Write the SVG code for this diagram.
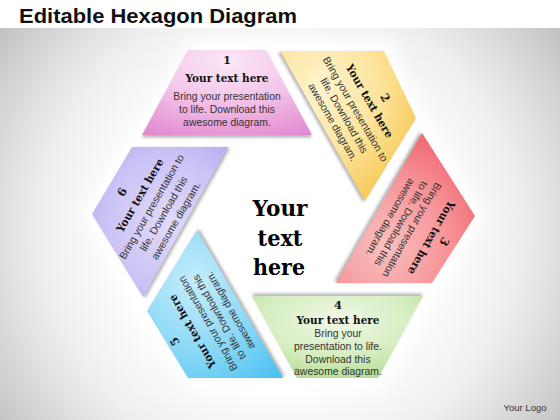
<svg xmlns="http://www.w3.org/2000/svg" xmlns:xlink="http://www.w3.org/1999/xlink" width="560" height="420" viewBox="0 0 560 420">
<style>
.num{font-family:"DejaVu Serif","Liberation Serif",serif;font-weight:bold;font-size:11.5px;fill:#1a1a1a;text-anchor:middle}
.head{font-family:"DejaVu Serif","Liberation Serif",serif;font-weight:bold;font-size:11px;fill:#111;text-anchor:middle}
.body{font-family:"Liberation Sans",Arial,sans-serif;font-size:10.4px;fill:#333;text-anchor:middle}
.center{font-family:"DejaVu Serif","Liberation Serif",serif;font-weight:bold;font-size:21.5px;fill:#000;text-anchor:middle}
.shadow{fill:#7a7a7a;opacity:.55}
</style>
<defs>
<radialGradient id="bg" gradientUnits="userSpaceOnUse" cx="280" cy="230" r="345">
<stop offset="0" stop-color="#ffffff"/><stop offset="0.45" stop-color="#ffffff"/><stop offset="0.7" stop-color="#eeeeee"/><stop offset="0.85" stop-color="#d9d9d9"/><stop offset="1" stop-color="#c2c2c2"/>
</radialGradient>
<radialGradient id="g1" cx="0.5" cy="0.15" r="0.95"><stop offset="0" stop-color="#fbe8f6"/><stop offset="0.45" stop-color="#f4c6ea"/><stop offset="1" stop-color="#e28ad0"/></radialGradient>
<radialGradient id="g2" cx="0.3" cy="0.25" r="0.95"><stop offset="0" stop-color="#fff4d0"/><stop offset="0.45" stop-color="#fde49c"/><stop offset="1" stop-color="#f4be3c"/></radialGradient>
<radialGradient id="g3" cx="0.35" cy="0.75" r="0.95"><stop offset="0" stop-color="#fac0c0"/><stop offset="0.5" stop-color="#f69296"/><stop offset="1" stop-color="#ee5060"/></radialGradient>
<radialGradient id="g4" cx="0.5" cy="0.3" r="0.9"><stop offset="0" stop-color="#f1f9e8"/><stop offset="0.5" stop-color="#d4edbe"/><stop offset="1" stop-color="#a4d47c"/></radialGradient>
<radialGradient id="g5" cx="0.35" cy="0.35" r="0.95"><stop offset="0" stop-color="#c6edfb"/><stop offset="0.5" stop-color="#8ad8f6"/><stop offset="1" stop-color="#40bdee"/></radialGradient>
<radialGradient id="g6" cx="0.55" cy="0.5" r="0.9"><stop offset="0" stop-color="#e0daf9"/><stop offset="0.5" stop-color="#cbc2f6"/><stop offset="1" stop-color="#a696ea"/></radialGradient>
<filter id="blur" x="-20%" y="-20%" width="140%" height="140%"><feGaussianBlur stdDeviation="1.8"/></filter>
<filter id="halo" x="-20%" y="-20%" width="140%" height="140%"><feGaussianBlur stdDeviation="7"/></filter>
<polygon id="p1" points="188,50 266,50 312,135 142,135"/>
<polygon id="p2" points="280,51 384,51 416,118 365,201"/>
<polygon id="p3" points="422,133 475,216 432,283 336,283"/>
<polygon id="p4" points="252,296 423,296 378,378 297,378"/>
<polygon id="p5" points="197,230 283,378 188,378 147,311"/>
<polygon id="p6" points="132,147 228,147 143,297 92,214"/>
</defs>

<rect x="0" y="0" width="560" height="420" fill="#ffffff"/>
<rect x="0" y="28" width="560" height="392" fill="url(#bg)"/>

<text x="19" y="23" font-family="Liberation Sans,Arial,sans-serif" font-weight="bold" font-size="20" fill="#111" textLength="278" lengthAdjust="spacingAndGlyphs">Editable Hexagon Diagram</text>

<polygon points="188,38 266,38 284,40 390,40 426,118 432,128 486,216 440,292 430,294 386,390 292,390 188,390 138,312 132,300 80,214 126,138 138,128" fill="#ffffff" opacity="0.95" filter="url(#halo)"/>

<g id="node-1">
<use xlink:href="#p1" class="shadow" filter="url(#blur)" transform="translate(0 2.5)"/>
<use xlink:href="#p1" fill="url(#g1)"/>
<g transform="translate(282 215)">
<text class="num" x="-55" y="-151">1</text>
<text class="head" x="-55" y="-133" textLength="83" lengthAdjust="spacingAndGlyphs">Your text here</text>
<text class="body" x="-55" y="-115">Bring your presentation</text>
<text class="body" x="-55" y="-102">to life. Download this</text>
<text class="body" x="-55" y="-89">awesome diagram.</text>
</g>
</g>

<g id="node-2">
<use xlink:href="#p2" class="shadow" filter="url(#blur)" transform="translate(-2.2 1.3)"/>
<use xlink:href="#p2" fill="url(#g2)"/>
<g transform="translate(282 215) rotate(60)">
<text class="num" x="-50" y="-144">2</text>
<text class="head" x="-55" y="-129" textLength="83" lengthAdjust="spacingAndGlyphs">Your text here</text>
<text class="body" x="-55" y="-113">Bring your presentation to</text>
<text class="body" x="-55" y="-100">life. Download this</text>
<text class="body" x="-55" y="-87">awesome diagram.</text>
</g>
</g>

<g id="node-3">
<use xlink:href="#p3" class="shadow" filter="url(#blur)" transform="translate(-2.2 -1.3)"/>
<use xlink:href="#p3" fill="url(#g3)"/>
<g transform="translate(282 215) rotate(120)">
<text class="num" x="-58" y="-150">3</text>
<text class="head" x="-55" y="-137" textLength="83" lengthAdjust="spacingAndGlyphs">Your text here</text>
<text class="body" x="-52" y="-116.5">Bring your presentation</text>
<text class="body" x="-52" y="-104">to life. Download this</text>
<text class="body" x="-52" y="-91.5">awesome diagram.</text>
</g>
</g>

<g id="node-4">
<use xlink:href="#p4" class="shadow" filter="url(#blur)" transform="translate(0 -2.5)"/>
<use xlink:href="#p4" fill="url(#g4)"/>
<text class="num" x="338" y="309">4</text>
<text class="head" x="338" y="324" textLength="83" lengthAdjust="spacingAndGlyphs">Your text here</text>
<text class="body" x="338" y="336.5">Bring your</text>
<text class="body" x="338" y="349.5">presentation to life.</text>
<text class="body" x="338" y="362.5">Download this</text>
<text class="body" x="338" y="375">awesome diagram.</text>
</g>

<g id="node-5">
<use xlink:href="#p5" class="shadow" filter="url(#blur)" transform="translate(2.2 -1.3)"/>
<use xlink:href="#p5" fill="url(#g5)"/>
<g transform="translate(282 215) rotate(240)">
<text class="num" x="-56" y="-152">5</text>
<text class="head" x="-56" y="-132" textLength="83" lengthAdjust="spacingAndGlyphs">Your text here</text>
<text class="body" x="-57" y="-115">Bring your presentation</text>
<text class="body" x="-57" y="-102">to life. Download this</text>
<text class="body" x="-57" y="-89">awesome diagram.</text>
</g>
</g>

<g id="node-6">
<use xlink:href="#p6" class="shadow" filter="url(#blur)" transform="translate(2.2 1.3)"/>
<use xlink:href="#p6" fill="url(#g6)"/>
<g transform="translate(282 215) rotate(300)">
<text class="num" x="-60" y="-146">6</text>
<text class="head" x="-54" y="-129" textLength="83" lengthAdjust="spacingAndGlyphs">Your text here</text>
<text class="body" x="-58" y="-113.5">Bring your presentation to</text>
<text class="body" x="-58" y="-99.5">life. Download this</text>
<text class="body" x="-58" y="-85.5">awesome diagram.</text>
</g>
</g>

<g id="connectors"></g>

<g id="center">
<text class="center" x="280" y="216" textLength="55" lengthAdjust="spacingAndGlyphs">Your</text>
<text class="center" x="280" y="246" textLength="45" lengthAdjust="spacingAndGlyphs">text</text>
<text class="center" x="279" y="275" textLength="52" lengthAdjust="spacingAndGlyphs">here</text>
</g>

<text x="525" y="411" font-family="Liberation Sans,Arial,sans-serif" font-size="9.5" fill="#333" text-anchor="middle">Your Logo</text>
</svg>
